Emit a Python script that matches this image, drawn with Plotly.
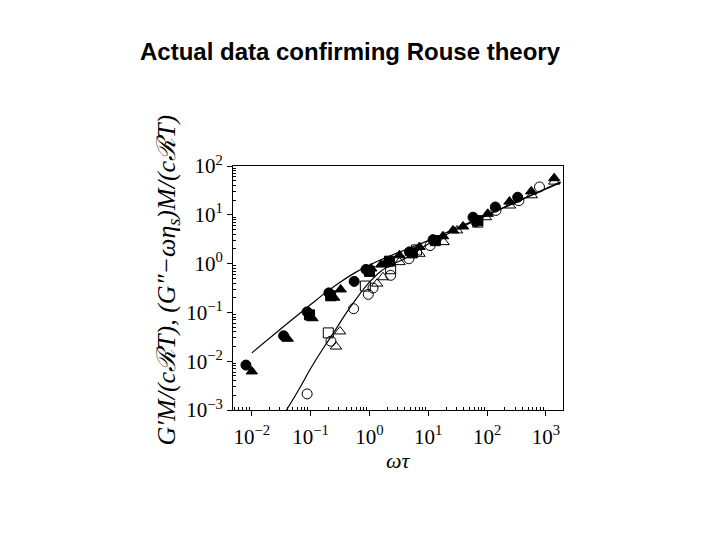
import plotly.graph_objects as go

# all values are log10 exponents (x = log10 ωτ, y = log10 modulus)

# Rouse theory curves
upper_curve_x = [-2.0, -1.5, -1.0, -0.75, -0.5, -0.25, 0.0, 0.25, 0.5, 0.75, 1.0, 1.5, 2.0, 2.5, 3.0, 3.25]
upper_curve_y = [-1.83, -1.33, -0.84, -0.60, -0.38, -0.19, -0.03, 0.11, 0.23, 0.35, 0.47, 0.74, 1.00, 1.27, 1.54, 1.67]
lower_curve_x = [-1.41, -1.2, -1.0, -0.8, -0.6, -0.4, -0.2, 0.0, 0.2, 0.4, 0.6, 0.8, 1.0, 1.5, 2.0, 2.5, 3.0, 3.25]
lower_curve_y = [-3.0, -2.58, -2.15, -1.76, -1.40, -1.02, -0.68, -0.38, -0.15, -0.01, 0.10, 0.25, 0.40, 0.71, 0.99, 1.26, 1.53, 1.66]

# G'' data (filled symbols)
gpp_circle_x = [-2.10, -1.46, -1.06, -0.69, -0.26, -0.06, 0.32, 0.68, 1.08, 1.76, 2.14, 2.52]
gpp_circle_y = [-2.08, -1.48, -0.99, -0.60, -0.365, -0.12, 0.03, 0.24, 0.49, 0.95, 1.16, 1.36]
gpp_triangle_x = [-2.0, -1.39, -0.97, -0.60, -0.49, 0.03, 0.20, 0.51, 0.85, 1.25, 1.42, 1.59, 2.01, 2.38, 2.75, 3.14]
gpp_triangle_y = [-2.21, -1.54, -1.12, -0.70, -0.53, -0.10, -0.02, 0.17, 0.34, 0.56, 0.68, 0.76, 1.02, 1.27, 1.48, 1.75]
gpp_square_x = [-1.02, -0.66, 0.0, 0.34, 0.73, 1.12, 1.84]
gpp_square_y = [-1.05, -0.66, -0.16, 0.05, 0.22, 0.47, 0.88]

# G' data (open symbols)
gp_circle_x = [-1.06, -0.655, -0.27, -0.02, 0.06, 0.36, 0.67, 1.03, 1.81, 2.15, 2.54, 2.89]
gp_circle_y = [-2.67, -1.59, -0.925, -0.63, -0.50, -0.24, 0.10, 0.37, 0.86, 1.09, 1.29, 1.57]
gp_triangle_x = [-0.50, -0.57, 0.13, 0.23, 0.51, 0.85, 1.26, 1.49, 1.98, 2.39, 2.76, 3.14]
gp_triangle_y = [-1.39, -1.70, -0.41, -0.28, 0.03, 0.20, 0.44, 0.68, 0.95, 1.19, 1.40, 1.68]
gp_square_x = [-0.70, -0.07, 0.36, 0.80, 1.84]
gp_square_y = [-1.42, -0.46, -0.105, 0.28, 0.85]

DECADES_X = [-3, -2, -1, 0, 1, 2, 3]
DECADES_Y = [-3, -2, -1, 0, 1, 2]


def p10(vals):
    return [10 ** v for v in vals]


def pow_label(k):
    return "10<sup>" + str(k).replace("-", "−") + "</sup>"


def minor_vals(decades):
    # 2..9 inside every decade, for the small ticks
    return [m * 10 ** k for k in decades for m in range(2, 10)]


fig = go.Figure()

for cx, cy in [(upper_curve_x, upper_curve_y), (lower_curve_x, lower_curve_y)]:
    fig.add_trace(go.Scatter(x=p10(cx), y=p10(cy), mode="lines",
                             line=dict(color="black", width=1.2, shape="spline"),
                             showlegend=False))

series = [
    (gp_circle_x, gp_circle_y, "circle-open"),
    (gp_triangle_x, gp_triangle_y, "triangle-up-open"),
    (gp_square_x, gp_square_y, "square-open"),
    (gpp_circle_x, gpp_circle_y, "circle"),
    (gpp_triangle_x, gpp_triangle_y, "triangle-up"),
    (gpp_square_x, gpp_square_y, "square"),
]
for sx, sy, sym in series:
    fig.add_trace(go.Scatter(
        x=p10(sx), y=p10(sy), mode="markers", showlegend=False,
        marker=dict(symbol=sym, size=10, color="black",
                    line=dict(color="black", width=1)),
    ))

axis_common = dict(
    type="log",
    showgrid=False,
    zeroline=False,
    showline=True,
    linecolor="black",
    linewidth=1,
    mirror=True,
    ticks="outside",
    ticklen=5,
    tickcolor="black",
    tickfont=dict(family="Liberation Serif", size=21, color="black"),
)

fig.update_xaxes(range=[-2.32, 3.29],
                 tickvals=p10(DECADES_X[1:]), ticktext=[pow_label(k) for k in DECADES_X[1:]],
                 ticklabelstandoff=3,
                 minor=dict(tickmode="array", tickvals=minor_vals(DECADES_X),
                            ticks="inside", ticklen=3, tickcolor="black", showgrid=False),
                 **axis_common)
fig.update_yaxes(range=[-3, 2],
                 tickvals=p10(DECADES_Y), ticktext=[pow_label(k) for k in DECADES_Y],
                 minor=dict(tickmode="array", tickvals=minor_vals(DECADES_Y[:-1]),
                            ticks="inside", ticklen=3, tickcolor="black", showgrid=False),
                 **axis_common)

fig.update_layout(
    width=720,
    height=540,
    margin=dict(l=225, r=165, t=158, b=138),
    paper_bgcolor="white",
    plot_bgcolor="white",
    title=dict(
        text="<b>Actual data confirming Rouse theory</b>",
        font=dict(family="Liberation Sans", size=24, color="black"),
        xref="container", x=0.475, xanchor="center",
        yref="container", y=0.9185, yanchor="middle",
    ),
    annotations=[
        dict(
            text="<i>G′M/(cℛT), (G″−ωη<sub>s</sub>)M/(cℛT)</i>",
            xref="paper", yref="paper", x=-0.197, y=0.535,
            xanchor="center", yanchor="middle",
            textangle=-90, showarrow=False,
            font=dict(family="Liberation Serif", size=26, color="black"),
        ),
        dict(
            text="<i>ωτ</i>",
            xref="paper", yref="paper", x=0.5, y=-0.205,
            xanchor="center", yanchor="middle",
            showarrow=False,
            font=dict(family="Liberation Serif", size=22, color="black"),
        ),
    ],
)

fig.write_html("out.html")
